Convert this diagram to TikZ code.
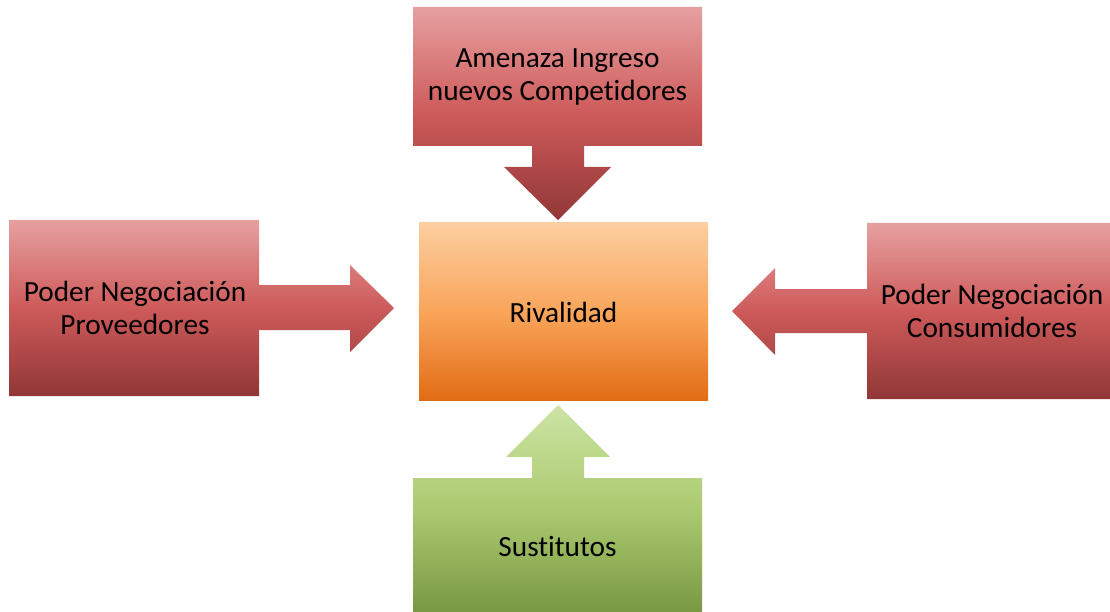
\documentclass[tikz,border=0pt]{standalone}
\usepackage{fontspec}
\setmainfont{Carlito}[Ligatures={NoCommon,NoRare}]
\usetikzlibrary{calc}
\definecolor{rtop}{RGB}{230,160,160}
\definecolor{rmid}{RGB}{206,90,90}
\definecolor{rbot}{RGB}{145,55,55}
\definecolor{otop}{RGB}{252,206,160}
\definecolor{omid}{RGB}{249,165,90}
\definecolor{obot}{RGB}{226,108,20}
\definecolor{gtop}{RGB}{205,228,165}
\definecolor{gmid}{RGB}{172,202,112}
\definecolor{gbot}{RGB}{120,152,66}
\tikzset{
  box/.style={draw=none, align=center, inner sep=0pt, font=\fontsize{29.3}{33}\selectfont, text=black},
  redfill/.style={top color=rtop, bottom color=rbot, middle color=rmid},
  orangefill/.style={top color=otop, bottom color=obot, middle color=omid},
  greenfill/.style={top color=gtop, bottom color=gbot, middle color=gmid},
}
\begin{document}
\begin{tikzpicture}[x=1pt,y=-1pt]
\useasboundingbox (0,0) rectangle (1110,612);
% top box + arrow
\shade[redfill] (413,7) -- (702,7) -- (702,146) -- (584,146) -- (584,167) -- (611,167) -- (558,220) -- (504,167) -- (532,167) -- (532,146) -- (413,146) -- cycle;
% left box + arrow
\shade[redfill] (9,220) -- (259,220) -- (259,285) -- (350,285) -- (350,265) -- (394,308) -- (350,352) -- (350,330) -- (259,330) -- (259,396) -- (9,396) -- cycle;
% right box + arrow
\shade[redfill] (867,223) -- (1110,223) -- (1110,399) -- (867,399) -- (867,333) -- (775,333) -- (775,355) -- (732,311) -- (775,268) -- (775,289) -- (867,289) -- cycle;
% bottom box + arrow
\shade[greenfill] (413,478) -- (532,478) -- (532,457) -- (506,457) -- (558,405) -- (610,457) -- (584,457) -- (584,478) -- (702,478) -- (702,612) -- (413,612) -- cycle;
% center box
\shade[orangefill] (419,223) rectangle (708,400);

\node[box] (top) at (557.5,77) {Amenaza Ingreso\\nuevos Competidores};
\node[box] (cen) at (563.5,312) {Rivalidad};
\node[box] (left) at (135,308) {Poder Negociación\\Proveedores};
\node[box] (right) at (992,311) {Poder Negociación\\Consumidores};
\node[box] (bot) at (557.5,547) {Sustitutos};
\end{tikzpicture}
\end{document}
